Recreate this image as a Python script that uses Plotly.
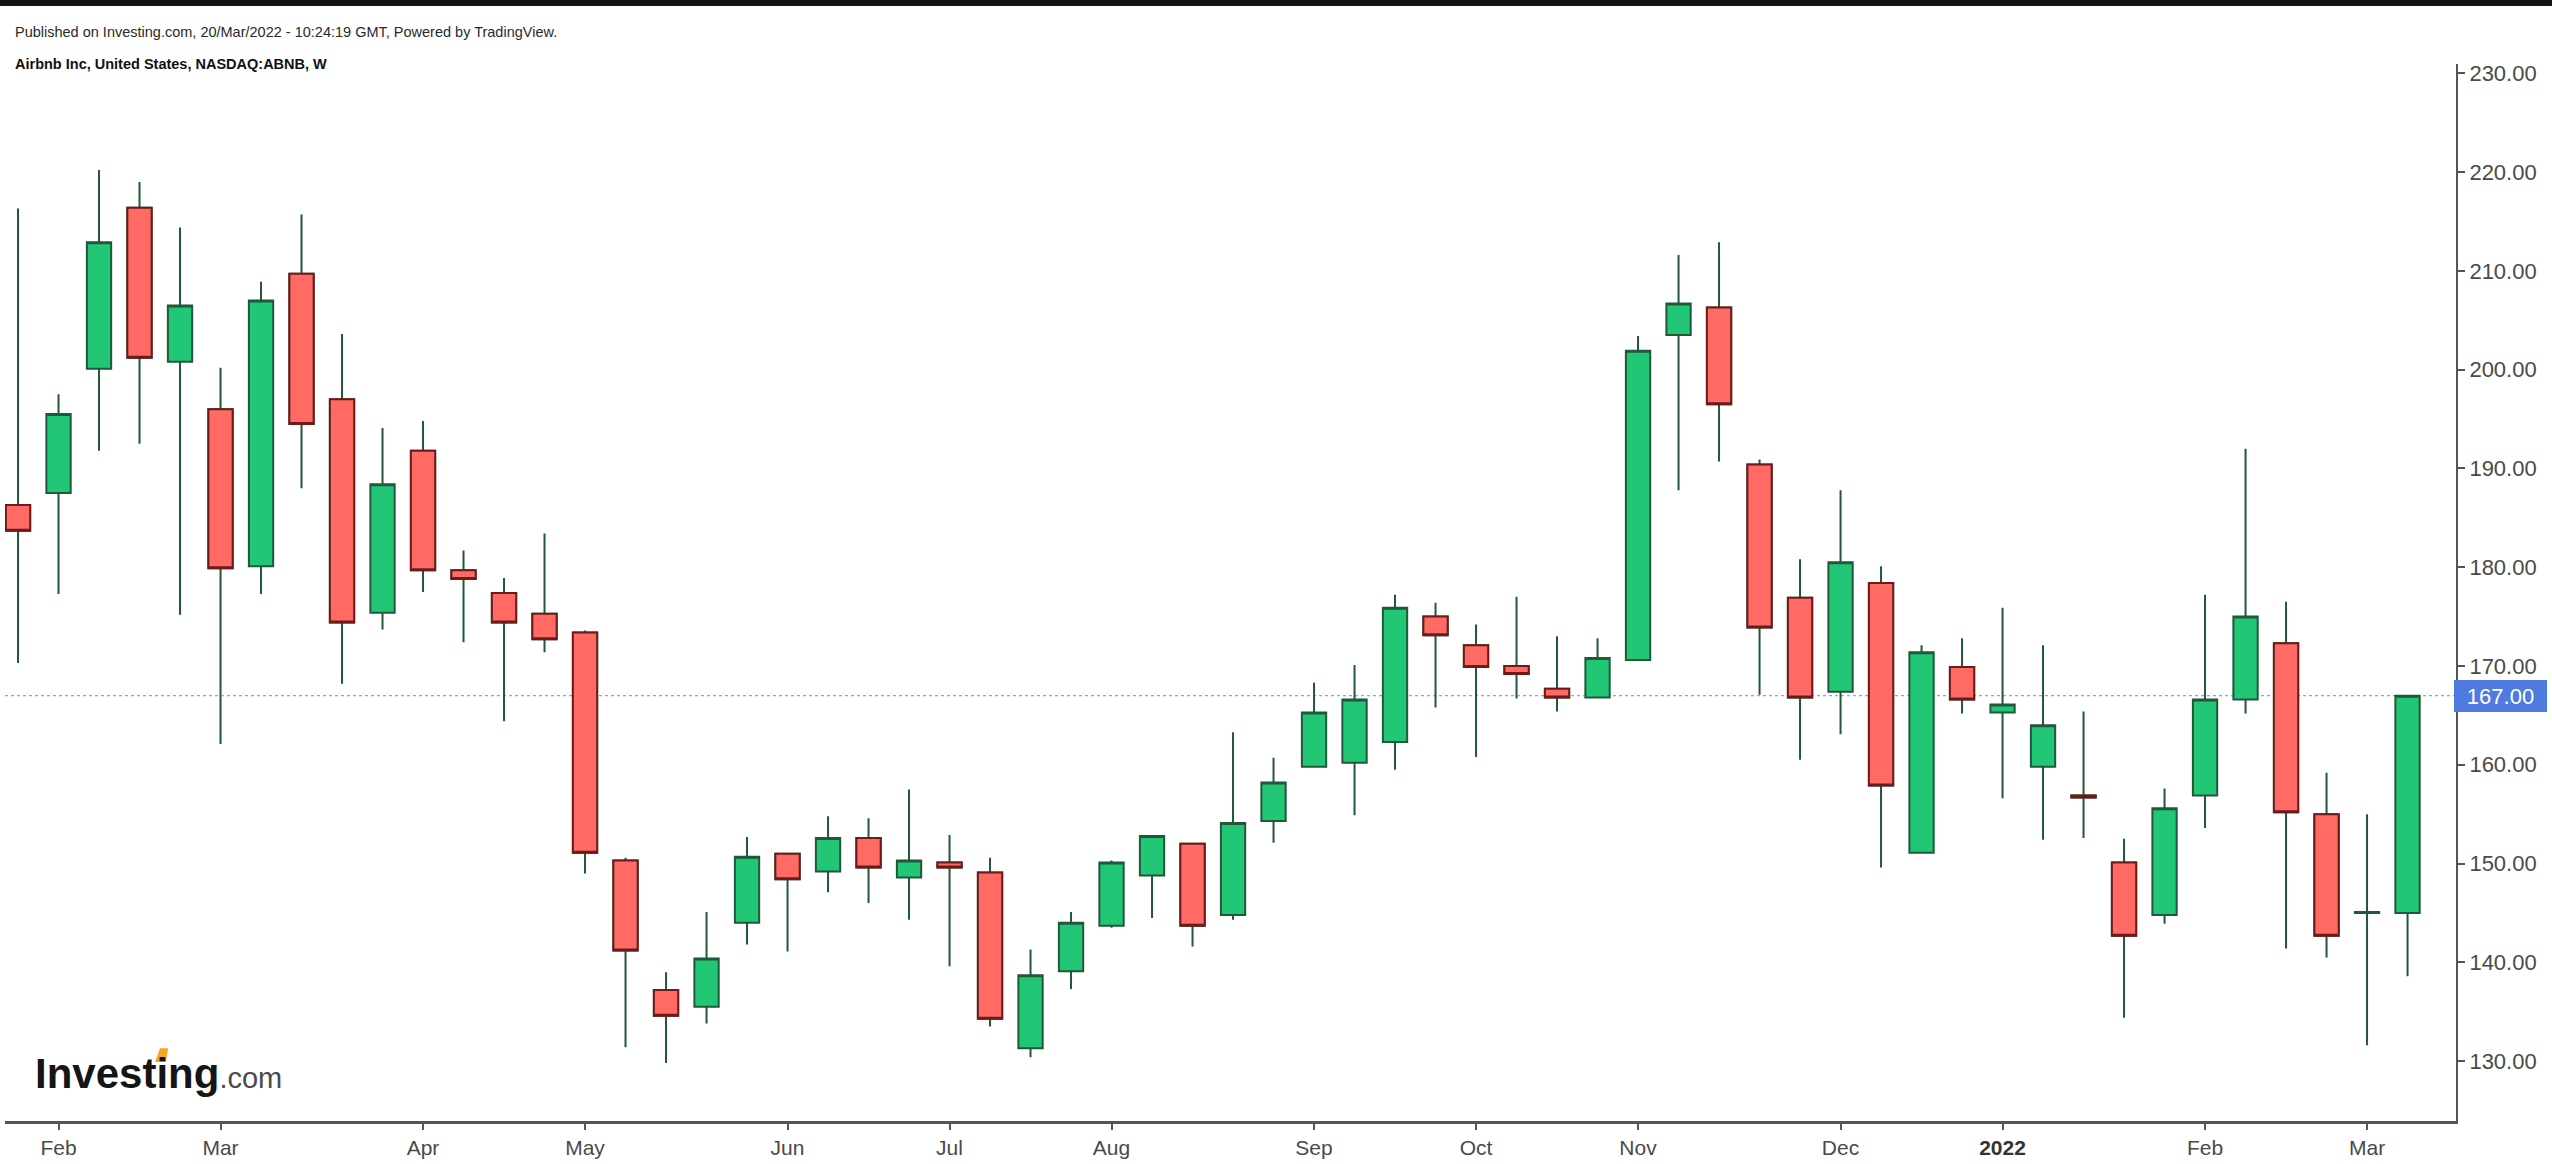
import pandas as pd
import plotly.graph_objects as go

# Weekly bars (Monday start), Airbnb NASDAQ:ABNB
weeks = pd.date_range("2021-01-25", periods=60, freq="W-MON")

opens = [186.3, 187.5, 200.1, 216.4, 200.8, 196.0, 180.1, 209.7, 197.0, 175.4,
         191.8, 179.7, 177.4, 175.3, 173.4, 150.3, 137.2, 135.5, 144.0, 151.0,
         149.2, 152.6, 148.6, 150.1, 149.1, 131.3, 139.1, 143.7, 148.8, 152.0,
         144.8, 154.3, 159.8, 160.2, 162.3, 175.0, 172.1, 170.0, 167.7, 166.8,
         170.6, 203.5, 206.3, 190.4, 176.9, 167.4, 178.4, 151.1, 169.9, 165.3,
         159.8, 156.9, 150.1, 144.8, 156.9, 166.6, 172.3, 155.0, 145.0, 145.0]
highs = [216.3, 197.5, 220.2, 219.0, 214.4, 200.2, 208.9, 215.7, 203.6, 194.1,
         194.8, 181.7, 178.9, 183.4, 173.6, 150.6, 139.0, 145.1, 152.7, 151.0,
         154.8, 154.6, 157.5, 152.9, 150.6, 141.3, 145.1, 150.3, 152.8, 152.0,
         163.3, 160.7, 168.3, 170.1, 177.2, 176.4, 174.2, 177.0, 173.0, 172.8,
         203.4, 211.6, 212.9, 190.9, 180.8, 187.8, 180.1, 172.1, 172.8, 175.9,
         172.1, 165.4, 152.5, 157.6, 177.2, 192.0, 176.5, 159.2, 155.0, 167.0]
lows = [170.3, 177.3, 191.8, 192.5, 175.2, 162.1, 177.3, 188.0, 168.2, 173.7,
        177.5, 172.4, 164.4, 171.4, 149.0, 131.4, 129.8, 133.8, 141.8, 141.1,
        147.1, 146.0, 144.3, 139.6, 133.5, 130.4, 137.3, 143.5, 144.5, 141.6,
        144.3, 152.1, 159.8, 154.9, 159.5, 165.8, 160.8, 166.7, 165.4, 166.8,
        170.6, 187.8, 190.7, 167.1, 160.5, 163.1, 149.6, 151.1, 165.2, 156.6,
        152.4, 152.6, 134.4, 143.9, 153.6, 165.2, 141.4, 140.5, 131.6, 138.6]
closes = [183.7, 195.5, 212.9, 201.2, 206.5, 179.9, 207.0, 194.5, 174.4, 188.4,
          179.7, 178.8, 174.4, 172.7, 151.1, 141.2, 134.6, 140.4, 150.7, 148.4,
          152.6, 149.6, 150.3, 149.6, 134.3, 138.7, 144.0, 150.1, 152.8, 143.7,
          154.1, 158.2, 165.3, 166.6, 175.9, 173.1, 169.9, 169.2, 166.8, 170.8,
          201.9, 206.7, 196.5, 173.9, 166.8, 180.5, 157.9, 171.4, 166.6, 166.1,
          164.0, 156.7, 142.7, 155.6, 166.6, 175.0, 155.2, 142.7, 145.1, 167.0]

last_price = 167.0

tick_dates = ["2021-02-01", "2021-03-01", "2021-04-05", "2021-05-03", "2021-06-07",
              "2021-07-05", "2021-08-02", "2021-09-06", "2021-10-04", "2021-11-01",
              "2021-12-06", "2022-01-03", "2022-02-07", "2022-03-07"]
tick_text = ["Feb", "Mar", "Apr", "May", "Jun", "Jul", "Aug", "Sep", "Oct", "Nov",
             "Dec", "<b><span style='color:#333'>2022</span></b>", "Feb", "Mar"]
y_ticks = [130, 140, 150, 160, 170, 180, 190, 200, 210, 220, 230]

GREEN = "#22C776"
RED = "#FF6B64"
GREEN_LINE = "#21573A"
RED_LINE = "#6E1A1A"
FONT = "Liberation Sans, Arial, sans-serif"

W, H = 2552, 1164
ML, MR, MT, MB = 5, 96, 64, 41
PW, PH = W - ML - MR, H - MT - MB


def px_x(px):
    return (px - ML) / PW


def px_y(py):
    return (H - MB - py) / PH


fig = go.Figure()

# all candles: wicks + bodies
fig.add_trace(go.Candlestick(
    x=weeks, open=opens, high=highs, low=lows, close=closes,
    increasing=dict(line=dict(color=GREEN_LINE, width=2), fillcolor=GREEN),
    decreasing=dict(line=dict(color=GREEN_LINE, width=2), fillcolor=RED),
    whiskerwidth=0, showlegend=False, hoverinfo="skip"))

# red bodies again with dark red border (wicks stay dark green)
dn = [i for i in range(len(opens)) if closes[i] < opens[i]]
fig.add_trace(go.Candlestick(
    x=[weeks[i] for i in dn],
    open=[opens[i] for i in dn], close=[closes[i] for i in dn],
    high=[opens[i] for i in dn], low=[closes[i] for i in dn],
    increasing=dict(line=dict(color=RED_LINE, width=2), fillcolor=RED),
    decreasing=dict(line=dict(color=RED_LINE, width=2), fillcolor=RED),
    whiskerwidth=0, showlegend=False, hoverinfo="skip"))

# orange dot of the logo's "i"
dot = "M {:.5f},{:.5f} L {:.5f},{:.5f} L {:.5f},{:.5f} L {:.5f},{:.5f} Z".format(
    px_x(155), px_y(1064), px_x(160), px_y(1050), px_x(168), px_y(1050), px_x(166), px_y(1064))

shapes = [
    dict(type="line", xref="paper", x0=0, x1=1, yref="y", y0=last_price, y1=last_price,
         line=dict(color="#8aa3f2", width=1.2, dash="dot"), layer="below"),
    dict(type="rect", xref="paper", x0=px_x(0), x1=px_x(W), yref="paper",
         y0=px_y(6), y1=px_y(-2), fillcolor="#131313", line=dict(width=0)),
    dict(type="path", xref="paper", yref="paper", path=dot,
         fillcolor="#F5A623", line=dict(width=0)),
]

annotations = [
    dict(text="Published on Investing.com, 20/Mar/2022 - 10:24:19 GMT, Powered by TradingView.",
         xref="paper", yref="paper", x=px_x(13), y=px_y(32), xanchor="left", yanchor="middle",
         showarrow=False, font=dict(family=FONT, size=14.5, color="#2a2a2a")),
    dict(text="<b>Airbnb Inc, United States, NASDAQ:ABNB, W</b>",
         xref="paper", yref="paper", x=px_x(13), y=px_y(64), xanchor="left", yanchor="middle",
         showarrow=False, font=dict(family=FONT, size=14.5, color="#111")),
    dict(text="<b>Investing</b><span style='font-size:29px;color:#4a4a4a'>.com</span>",
         xref="paper", yref="paper", x=px_x(33), y=px_y(1075), xanchor="left", yanchor="middle",
         showarrow=False, font=dict(family=FONT, size=42, color="#151515")),
    dict(text="167.00", xref="paper", yref="y", x=px_x(2454), y=last_price,
         xanchor="left", yanchor="middle", showarrow=False, width=93, height=32,
         bgcolor="#4F7BE0", borderwidth=0, borderpad=0, align="center",
         font=dict(family=FONT, size=22, color="#ffffff")),
]

fig.update_layout(
    width=W, height=H,
    margin=dict(l=ML, r=MR, t=MT, b=MB),
    paper_bgcolor="white", plot_bgcolor="white",
    boxgap=0.4, boxgroupgap=0,
    shapes=shapes, annotations=annotations,
    xaxis=dict(type="date", range=["2021-01-22 18:00", "2022-03-22 09:00"],
               rangeslider=dict(visible=False),
               tickvals=tick_dates, ticktext=tick_text,
               ticks="outside", ticklen=6, tickcolor="#555", tickwidth=1.5,
               showline=True, linecolor="#555", linewidth=2.5,
               showgrid=False, zeroline=False,
               tickfont=dict(family=FONT, size=21, color="#4a4a4a")),
    yaxis=dict(side="right", range=[123.94, 230.94],
               tickvals=y_ticks, tickformat=".2f",
               ticks="outside", ticklen=7, tickcolor="#555", tickwidth=1.5,
               showline=True, linecolor="#555", linewidth=2,
               showgrid=False, zeroline=False,
               tickfont=dict(family=FONT, size=22, color="#4a4a4a")),
)

fig.write_html("out.html")
